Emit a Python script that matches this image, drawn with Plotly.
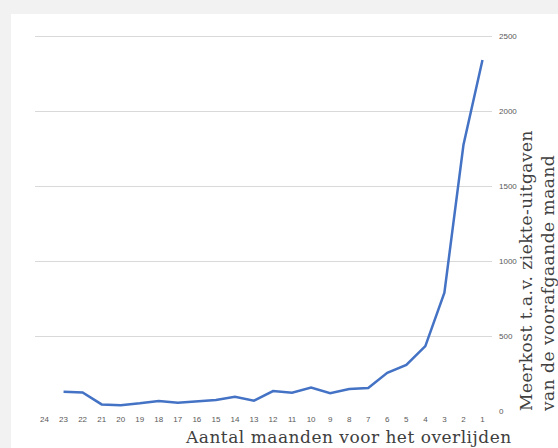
import plotly.graph_objects as go

months = ["24", "23", "22", "21", "20", "19", "18", "17", "16", "15", "14", "13",
          "12", "11", "10", "9", "8", "7", "6", "5", "4", "3", "2", "1"]
meerkost = [None, 129, 124, 44, 38, 51, 67, 55, 64, 74, 95, 69,
            133, 122, 157, 118, 147, 153, 255, 307, 433, 789, 1773, 2340]
y_ticks = [0, 500, 1000, 1500, 2000, 2500]

x_title = "Aantal maanden voor het overlijden"
y_title_lines = ["Meerkost t.a.v. ziekte-uitgaven", "van de voorafgaande maand"]

fig = go.Figure()
fig.add_trace(go.Scatter(
    x=months, y=meerkost, mode="lines",
    line=dict(color="#4472c4", width=2.5),
    connectgaps=False, showlegend=False, hoverinfo="x+y"))

W, H = 558, 448
L, R, T, B = 35, 66, 33, 37
pw, ph = W - L - R, H - T - B

def px(x):
    return (x - L) / pw

def py(y):
    return (H - B - y) / ph

def spaced(s, sp):
    return '<span style="letter-spacing:%spx">%s</span>' % (sp, s)

fig.add_shape(type="rect", xref="paper", yref="paper",
              x0=px(11), x1=px(W + 5), y0=py(H + 5), y1=py(14),
              fillcolor="white", line=dict(width=0), layer="below")

fig.add_annotation(text=spaced(x_title, 0.5), xref="paper", yref="paper",
                   x=px(348), y=py(437), xanchor="center", yanchor="middle",
                   showarrow=False,
                   font=dict(family="DejaVu Serif", size=17, color="#404040"))
fig.add_annotation(text="<br>".join(spaced(s, 0.5) for s in y_title_lines),
                   xref="paper", yref="paper",
                   x=px(537), y=py(414), xanchor="center", yanchor="bottom",
                   textangle=-90, align="left", showarrow=False,
                   font=dict(family="DejaVu Serif", size=17, color="#404040"))

fig.update_layout(
    width=W, height=H,
    margin=dict(l=L, r=R, t=T, b=B),
    paper_bgcolor="#f2f2f2", plot_bgcolor="white",
    xaxis=dict(type="category", categoryorder="array", categoryarray=months,
               range=[-0.5, 23.5],
               showgrid=False, zeroline=False, showline=False, ticks="",
               tickfont=dict(family="Liberation Sans", size=8, color="#595959"),
               ticklabelstandoff=2),
    yaxis=dict(side="right", range=[0, 2520], tickvals=y_ticks,
               showgrid=True, gridcolor="#d9d9d9", gridwidth=1,
               zeroline=False, showline=False, ticks="",
               tickfont=dict(family="Liberation Sans", size=8, color="#595959"),
               ticklabelstandoff=6),
)

fig.write_html("out.html")
